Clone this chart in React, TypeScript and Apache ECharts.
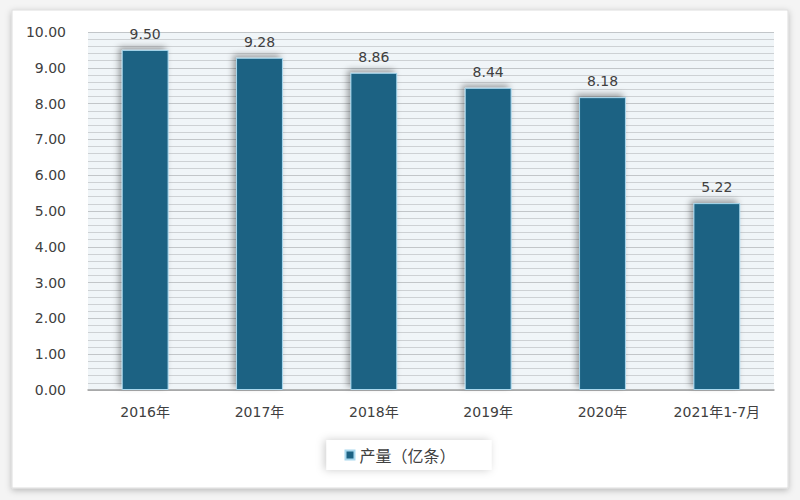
import React, { useEffect, useRef } from "react";
import * as echarts from "echarts";

const categories = ["2016年", "2017年", "2018年", "2019年", "2020年", "2021年1-7月"];
const values = [9.5, 9.28, 8.86, 8.44, 8.18, 5.22];
const seriesName = "产量（亿条）";

export default function App() {
  const ref = useRef<HTMLDivElement>(null);
  useEffect(() => {
    if (!ref.current) return;
    const chart = echarts.init(ref.current, null, { renderer: "svg" });
    const font = "'DejaVu Sans', 'Noto Sans CJK SC', sans-serif";
    chart.setOption({
      animation: false,
      backgroundColor: "#f4f4f4",
      textStyle: { fontFamily: font },
      graphic: [
        {
          type: "rect",
          shape: { x: 12, y: 10, width: 776, height: 478 },
          style: { fill: "#ffffff", stroke: "#dddddd", lineWidth: 1, shadowBlur: 6, shadowColor: "rgba(0,0,0,0.25)", shadowOffsetY: 2 },
          z: -10,
          silent: true,
        },
      ],
      grid: { left: 88, right: 26, top: 32, bottom: 110, backgroundColor: "#f0f5f8", show: true, borderWidth: 0 },
      legend: {
        bottom: 30,
        left: "center",
        itemWidth: 9,
        itemHeight: 9,
        icon: "rect",
        backgroundColor: "#ffffff",
        padding: [7, 36, 7, 18],
        shadowBlur: 8,
        shadowColor: "rgba(0,0,0,0.2)",
        shadowOffsetX: -2,
        textStyle: { fontSize: 16, color: "#404040", fontFamily: "'Noto Sans CJK SC', sans-serif" },
        data: [seriesName],
      },
      xAxis: {
        type: "category",
        data: categories,
        axisTick: { show: false },
        axisLine: { lineStyle: { color: "#a0a0a0", width: 1.5 } },
        axisLabel: { interval: 0, fontSize: 14, color: "#404040", margin: 15, fontFamily: font },
      },
      yAxis: {
        type: "value",
        min: 0,
        max: 10,
        interval: 1,
        axisLine: { show: false },
        axisTick: { show: false },
        axisLabel: { fontSize: 14, color: "#404040", margin: 22, formatter: (v: number) => v.toFixed(2), fontFamily: font },
        splitLine: { show: true, lineStyle: { color: "#c2c6c9", width: 1.2 } },
        minorTick: { show: false, splitNumber: 5 },
        minorSplitLine: { show: true, lineStyle: { color: "#cdd1d4", width: 1.2 } },
      },
      series: [
        {
          name: seriesName,
          type: "bar",
          data: values,
          barWidth: "41%",
          itemStyle: {
            color: "#1d6283",
            borderColor: "#a9d8ee",
            borderWidth: 1,
            shadowColor: "rgba(0,0,0,0.35)",
            shadowBlur: 6,
            shadowOffsetX: -3,
            shadowOffsetY: -3,
          },
          label: {
            show: true,
            position: "top",
            distance: 9,
            fontSize: 14,
            color: "#404040",
            formatter: (p: any) => Number(p.value).toFixed(2),
            fontFamily: font,
          },
        },
      ],
    });
    return () => chart.dispose();
  }, []);
  return <div ref={ref} style={{ position: "fixed", left: 0, top: 0, width: 800, height: 500 }} />;
}
